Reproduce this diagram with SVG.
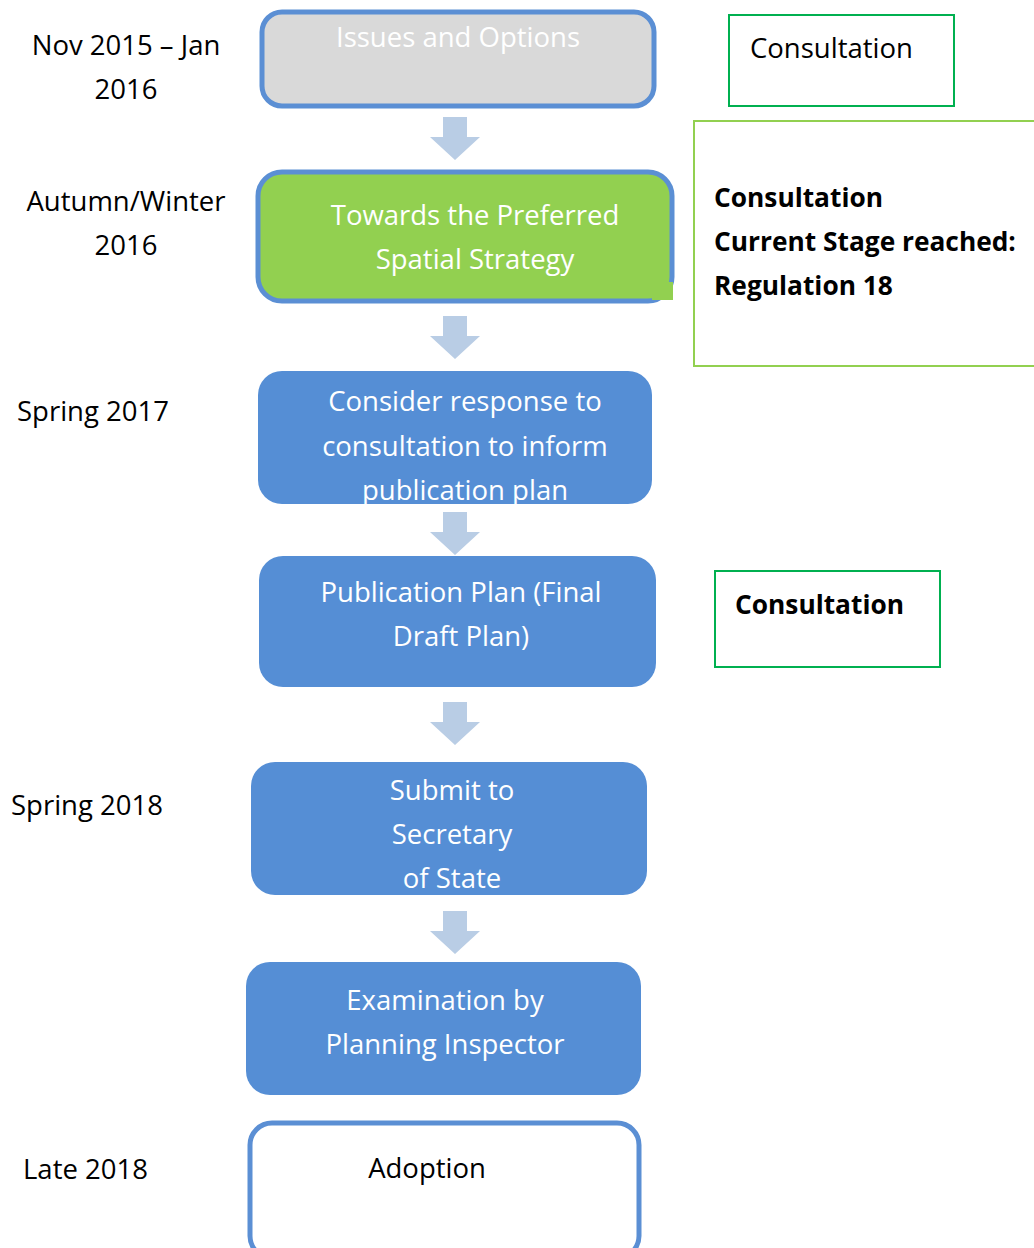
<svg xmlns="http://www.w3.org/2000/svg" width="1034" height="1248" viewBox="0 0 1034 1248">
<style>
  text { font-family: "Open Sans", "Noto Sans", "Liberation Sans", sans-serif; font-size: 27.5px; }
  .w { fill: #FFFFFF; text-anchor: middle; }
  .k { fill: #000000; }
  .c { text-anchor: middle; }
  .b { font-weight: bold; font-size: 26.3px; }
  .blue { fill: #558ED5; }
  .arrow { fill: #B9CDE5; }
  .cons { fill: none; stroke: #00B050; stroke-width: 2; }
  .cons2 { fill: none; stroke: #92D050; stroke-width: 2; }
</style>
<defs>
  <path id="arr" d="M-12,0 H12 V20 H25 L0,43 L-25,20 H-12 Z"/>
</defs>

<g id="labels">
  <text class="k c" x="126" y="55">Nov 2015 – Jan</text>
  <text class="k c" x="126" y="99">2016</text>
  <text class="k c" x="126" y="211">Autumn/Winter</text>
  <text class="k c" x="126" y="255">2016</text>
  <text class="k" x="17" y="421">Spring 2017</text>
  <text class="k" x="11" y="815">Spring 2018</text>
  <text class="k" x="23" y="1179">Late 2018</text>
</g>

<g id="connectors" class="arrow">
  <use href="#arr" x="455" y="117"/>
  <use href="#arr" x="455" y="316"/>
  <use href="#arr" x="455" y="512"/>
  <use href="#arr" x="455" y="702"/>
  <use href="#arr" x="455" y="911"/>
</g>

<g id="issues">
  <rect x="262" y="12" width="392" height="94" rx="20" fill="#D9D9D9" stroke="#5B8FD4" stroke-width="5"/>
  <text class="w" x="458" y="47">Issues and Options</text>
</g>

<g id="towards">
  <rect x="258" y="172" width="414" height="129" rx="24" fill="#92D050" stroke="#5B8FD4" stroke-width="5"/>
  <rect x="652" y="282" width="21" height="18" fill="#92D050"/>
  <text class="w" x="475" y="225">Towards the Preferred</text>
  <text class="w" x="475" y="269">Spatial Strategy</text>
</g>

<g id="consider">
  <rect x="258" y="371" width="394" height="133" rx="24" class="blue"/>
  <text class="w" x="465" y="411">Consider response to</text>
  <text class="w" x="465" y="456">consultation to inform</text>
  <text class="w" x="465" y="500">publication plan</text>
</g>

<g id="publication">
  <rect x="259" y="556" width="397" height="131" rx="24" class="blue"/>
  <text class="w" x="461" y="602">Publication Plan (Final</text>
  <text class="w" x="461" y="646">Draft Plan)</text>
</g>

<g id="submit">
  <rect x="251" y="762" width="396" height="133" rx="24" class="blue"/>
  <text class="w" x="452" y="800">Submit to</text>
  <text class="w" x="452" y="844">Secretary</text>
  <text class="w" x="452" y="888">of State</text>
</g>

<g id="examination">
  <rect x="246" y="962" width="395" height="133" rx="24" class="blue"/>
  <text class="w" x="445" y="1010">Examination by</text>
  <text class="w" x="445" y="1054">Planning Inspector</text>
</g>

<g id="adoption">
  <rect x="250" y="1123" width="389" height="135" rx="22" fill="#FFFFFF" stroke="#5B8FD4" stroke-width="5"/>
  <text class="k c" x="427" y="1178">Adoption</text>
</g>

<g id="consultation1">
  <rect x="729" y="15" width="225" height="91" class="cons"/>
  <text class="k" x="750" y="58">Consultation</text>
</g>

<g id="consultation2">
  <rect x="694" y="121" width="345" height="245" class="cons2"/>
  <text class="k b" x="714" y="207">Consultation</text>
  <text class="k b" x="714" y="251">Current Stage reached:</text>
  <text class="k b" x="714" y="295">Regulation 18</text>
</g>

<g id="consultation3">
  <rect x="715" y="571" width="225" height="96" class="cons"/>
  <text class="k b" x="735" y="614">Consultation</text>
</g>
</svg>
